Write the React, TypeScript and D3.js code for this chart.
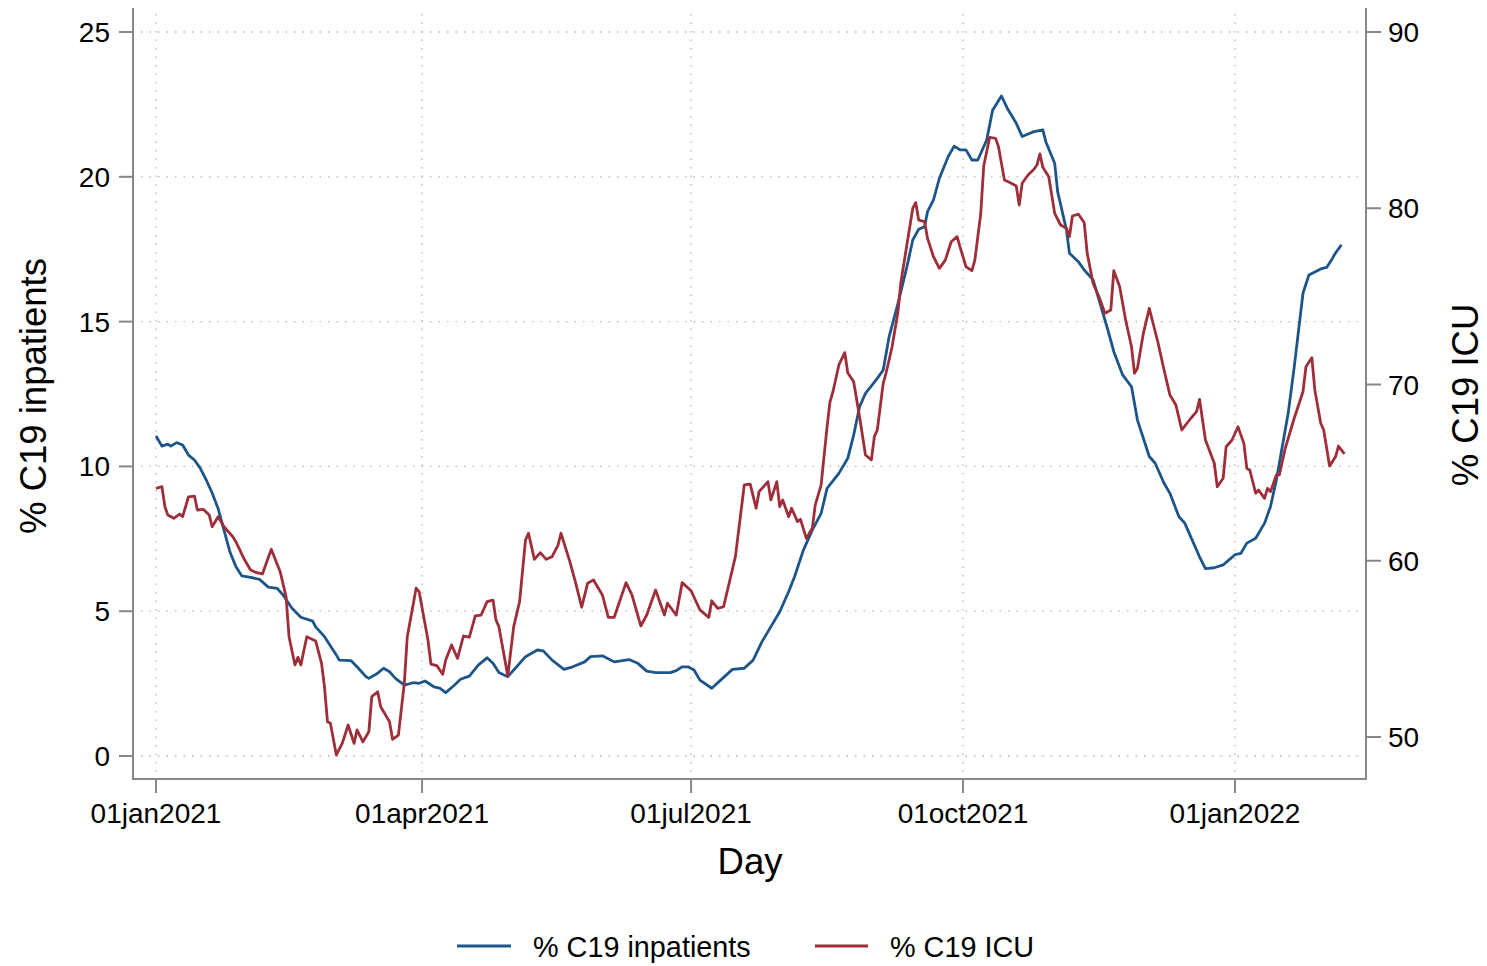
import React from "react";
import * as d3 from "d3";

// ---- Data (days since 01jan2021) ----
const inpatientDays = [0,2,4,5,7,9,11,13,15,17,19,21,23,25,27,29,32,35,38,41,43,46,49,53,54,57,61,62,66,68,71,72,75,77,79,81,84,87,89,91,94,96,98,101,103,106,109,112,114,116,119,122,125,129,131,134,138,141,145,147,151,155,160,163,166,169,174,176,178,180,182,184,188,191,195,199,202,205,211,214,216,219,222,225,227,231,234,236,238,240,244,246,248,251,254,256,258,260,261,263,265,268,270,272,274,276,278,281,283,286,288,291,293,295,297,300,301,304,305,308,309,312,314,317,319,322,324,327,330,332,336,338,341,343,346,348,353,355,358,361,365,367,369,372,375,377,379,383,385,388,390,394,396,398,399,401];
const inpatientValues = [11.05,10.7,10.77,10.7,10.82,10.74,10.39,10.22,9.93,9.53,9.08,8.55,7.8,7.05,6.54,6.22,6.17,6.1,5.83,5.79,5.56,5.1,4.79,4.66,4.46,4.12,3.49,3.31,3.29,3.08,2.74,2.68,2.86,3.03,2.91,2.68,2.45,2.53,2.51,2.59,2.39,2.34,2.19,2.45,2.65,2.76,3.14,3.39,3.2,2.88,2.74,3.08,3.43,3.66,3.63,3.31,2.99,3.08,3.25,3.43,3.46,3.25,3.33,3.2,2.93,2.88,2.88,2.95,3.08,3.08,2.97,2.62,2.34,2.62,2.99,3.03,3.31,3.95,4.98,5.67,6.19,7.11,7.8,8.38,9.24,9.76,10.28,11.08,12.06,12.52,13.04,13.33,14.48,15.63,16.89,17.82,18.19,18.28,18.8,19.2,19.95,20.7,21.06,20.93,20.93,20.58,20.58,21.27,22.3,22.79,22.36,21.85,21.39,21.48,21.56,21.62,21.21,20.47,19.49,18.16,17.36,17.07,16.78,16.44,15.75,14.71,13.96,13.16,12.75,11.6,10.34,10.11,9.42,9.07,8.27,8.04,6.88,6.47,6.5,6.6,6.95,7.0,7.35,7.52,8.04,8.61,9.53,11.84,13.4,15.98,16.61,16.82,16.87,17.19,17.37,17.65];

const icuDays = [0,2,3,4,6,8,9,11,13,14,16,18,19,21,23,26,27,30,32,34,36,39,42,44,45,47,48,49,51,54,56,57,58,59,61,63,65,67,68,70,72,73,75,76,79,80,82,84,85,88,89,92,93,95,97,98,100,102,104,106,108,110,112,114,115,116,119,121,123,125,126,128,130,132,134,136,137,140,142,144,146,148,151,153,155,159,161,164,166,169,172,173,176,178,181,184,187,188,190,192,196,199,201,203,204,207,208,210,211,212,214,215,217,218,220,222,223,225,227,228,229,231,233,234,236,238,240,242,243,244,246,247,249,251,252,254,256,257,258,260,261,263,265,267,269,271,272,274,276,277,279,280,282,284,285,287,289,291,292,293,295,297,298,299,300,302,304,306,308,309,310,312,314,315,317,319,321,323,324,326,328,330,331,332,334,336,337,339,341,343,345,347,350,352,353,355,358,359,361,362,364,366,368,369,370,372,373,375,376,377,379,380,382,385,388,389,391,392,394,395,397,399,400,402];
const icuValues = [64.11,64.2,63.07,62.6,62.41,62.65,62.5,63.63,63.67,62.88,62.92,62.6,61.93,62.5,61.93,61.36,61.08,60.04,59.48,59.32,59.25,60.65,59.38,57.96,55.69,54.09,54.52,54.09,55.69,55.45,54.18,52.85,50.87,50.78,48.98,49.64,50.68,49.64,50.4,49.73,50.3,52.29,52.57,51.72,50.87,49.87,50.11,53.05,55.69,58.44,58.25,55.5,54.14,54.05,53.56,54.37,55.22,54.46,55.73,55.66,56.87,56.92,57.68,57.77,56.64,56.26,53.46,56.26,57.68,61.18,61.56,60.08,60.46,60.08,60.23,60.89,61.56,59.95,58.72,57.36,58.72,58.91,58.06,56.79,56.79,58.76,58.06,56.3,56.92,58.34,56.92,57.59,56.92,58.76,58.3,57.21,56.79,57.73,57.3,57.39,60.23,64.3,64.35,62.98,63.92,64.49,63.45,64.49,63.07,63.45,62.5,62.98,62.22,62.35,61.27,61.84,63.16,64.3,67.6,69.02,69.59,71.11,71.81,70.67,70.16,68.17,66.0,65.72,67.04,67.42,70.07,70.67,72.14,74.13,75.83,77.91,80.0,80.32,79.33,79.24,78.29,77.25,76.59,77.06,78.1,78.39,77.8,76.68,76.46,77.06,79.71,82.4,84.02,83.97,83.49,81.6,81.45,81.26,80.18,81.42,81.89,82.21,82.45,83.08,82.32,81.79,79.71,79.05,78.86,78.39,79.56,79.67,79.18,77.44,75.74,74.98,74.04,74.23,76.46,75.55,73.66,72.14,70.64,70.92,72.9,74.32,73.66,72.34,70.82,69.4,68.84,67.42,68.07,68.46,69.16,66.85,65.53,64.2,64.68,66.47,66.85,67.6,66.66,65.24,65.15,63.83,64.01,63.54,64.11,63.92,64.87,64.87,66.38,68.07,69.59,71.01,71.52,69.69,67.8,67.42,65.38,65.9,66.51,66.06];

const xTickDates = ["2021-01-01", "2021-04-01", "2021-07-01", "2021-10-01", "2022-01-01"];
const leftTicks = [0, 5, 10, 15, 20, 25];
const rightTicks = [50, 60, 70, 80, 90];
const seriesNames = ["% C19 inpatients", "% C19 ICU"];
const seriesColors = ["#1d5588", "#9e2e39"];

const W = 1487, H = 966;
const FONT = "'Liberation Sans', Arial, Helvetica, sans-serif";
const AXIS = "#878787";
const GRID = "#b4b4b4";

const parse = d3.timeParse("%Y-%m-%d");
const START = parse("2021-01-01") as Date;

export default function App() {
  const plotL = 133, plotR = 1366, plotT = 8, plotB = 779;
  const x = d3.scaleTime().domain([START, parse("2022-01-01") as Date]).range([156, 1235]);
  const yL = d3.scaleLinear().domain([0, 25]).range([756, 32]);
  const yR = d3.scaleLinear().domain([50, 90]).range([737, 32]);
  const fmt = (d: Date) => d3.timeFormat("%d%b%Y")(d).toLowerCase();
  const toDate = (d: number) => d3.timeDay.offset(START, d);

  const inpat = inpatientDays.map((d, i) => [d, inpatientValues[i]] as [number, number]);
  const icu = icuDays.map((d, i) => [d, icuValues[i]] as [number, number]);

  const lineL = d3.line<[number, number]>().x(d => x(toDate(d[0]))).y(d => yL(d[1]));
  const lineR = d3.line<[number, number]>().x(d => x(toDate(d[0]))).y(d => yR(d[1]));

  const xt = xTickDates.map(s => parse(s) as Date);

  return (
    <svg width={W} height={H} style={{ position: "absolute", left: 0, top: 0, display: "block", background: "#fff" }} fontFamily={FONT}>
      <rect x={0} y={0} width={W} height={H} fill="#fff" />
      {/* grid */}
      {leftTicks.map(t => (
        <line key={"gh" + t} x1={plotL + 8} x2={plotR - 6} y1={yL(t)} y2={yL(t)} stroke={GRID} strokeWidth={1.3} strokeDasharray="1.5 7" />
      ))}
      {xt.map((d, i) => (
        <line key={"gv" + i} x1={x(d)} x2={x(d)} y1={plotT + 6} y2={plotB - 6} stroke={GRID} strokeWidth={1.3} strokeDasharray="1.5 7" />
      ))}
      {/* axes */}
      <line x1={plotL} x2={plotL} y1={plotT} y2={plotB + 1} stroke={AXIS} strokeWidth={2} />
      <line x1={plotR} x2={plotR} y1={plotT} y2={plotB + 1} stroke={AXIS} strokeWidth={2} />
      <line x1={plotL} x2={plotR} y1={plotB} y2={plotB} stroke={AXIS} strokeWidth={2} />
      {leftTicks.map(t => (
        <g key={"lt" + t}>
          <line x1={plotL - 14} x2={plotL} y1={yL(t)} y2={yL(t)} stroke={AXIS} strokeWidth={2} />
          <text x={110} y={yL(t)} dy="0.36em" textAnchor="end" fontSize={28} fill="#000">{t}</text>
        </g>
      ))}
      {rightTicks.map(t => (
        <g key={"rt" + t}>
          <line x1={plotR} x2={plotR + 15} y1={yR(t)} y2={yR(t)} stroke={AXIS} strokeWidth={2} />
          <text x={1388} y={yR(t)} dy="0.36em" textAnchor="start" fontSize={28} fill="#000">{t}</text>
        </g>
      ))}
      {xt.map((d, i) => (
        <g key={"xt" + i}>
          <line x1={x(d)} x2={x(d)} y1={plotB} y2={plotB + 14} stroke={AXIS} strokeWidth={2} />
          <text x={x(d)} y={823} textAnchor="middle" fontSize={28} fill="#000">{fmt(d)}</text>
        </g>
      ))}
      {/* titles */}
      <text x={750} y={874} textAnchor="middle" fontSize={36.5} fill="#000">Day</text>
      <text transform={`translate(46,396) rotate(-90)`} textAnchor="middle" fontSize={36.5} fill="#000">{seriesNames[0]}</text>
      <text transform={`translate(1478,395) rotate(-90)`} textAnchor="middle" fontSize={36.5} fill="#000">{seriesNames[1]}</text>
      {/* lines */}
      <path d={lineL(inpat) || ""} fill="none" stroke={seriesColors[0]} strokeWidth={2.8} strokeLinejoin="round" />
      <path d={lineR(icu) || ""} fill="none" stroke={seriesColors[1]} strokeWidth={2.8} strokeLinejoin="round" />
      {/* legend */}
      <line x1={457} x2={511} y1={946} y2={946} stroke={seriesColors[0]} strokeWidth={3} />
      <text x={533} y={957} fontSize={28.8} fill="#000">{seriesNames[0]}</text>
      <line x1={815} x2={868} y1={946} y2={946} stroke={seriesColors[1]} strokeWidth={3} />
      <text x={890} y={957} fontSize={28.8} fill="#000">{seriesNames[1]}</text>
    </svg>
  );
}
